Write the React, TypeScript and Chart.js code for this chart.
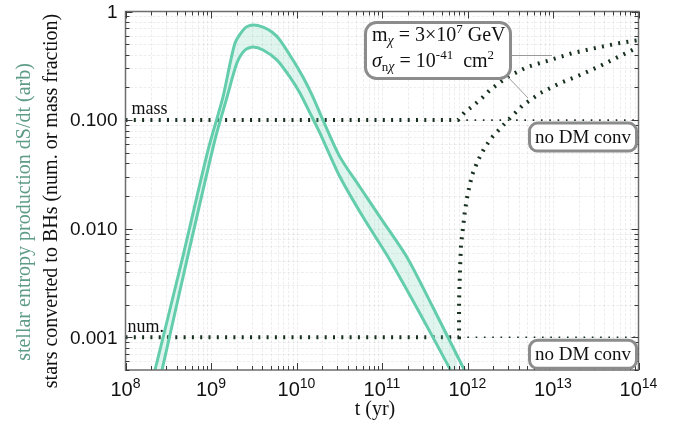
import React, { useEffect, useRef } from 'react';
import { Chart, registerables } from 'chart.js';

Chart.register(...registerables);

// ---- data ----
// stellar entropy production band (upper / lower edge)
const upperT = [1.94e8, 2.21e8, 4.58e8, 9.23e8, 1.38e9, 1.91e9, 2.5e9, 3.1e9, 4.06e9, 5.16e9, 6.41e9, 9.1e9, 1.19e10, 1.56e10, 2.04e10, 3.23e10, 5.53e10, 9.48e10, 1.96e11, 3.94e11, 8.85e11, 1.07e12];
const upperV = [3.25e-4, 4.97e-4, 5.13e-3, 0.053, 0.163, 0.513, 0.705, 0.752, 0.719, 0.647, 0.546, 0.357, 0.249, 0.163, 0.1, 0.0456, 0.0241, 0.0128, 0.00546, 0.00189, 5.3e-4, 3.93e-4];
const lowerT = [2.36e8, 2.67e8, 5.38e8, 1.11e9, 1.54e9, 2.01e9, 2.5e9, 3.1e9, 4.06e9, 5.92e9, 8.39e9, 1.1e10, 1.44e10, 1.88e10, 3.23e10, 6.0e10, 1.24e11, 2.78e11, 5.75e11, 7.53e11];
const lowerV = [3.25e-4, 4.97e-4, 5.7e-3, 0.0655, 0.163, 0.335, 0.442, 0.471, 0.442, 0.357, 0.249, 0.177, 0.116, 0.0759, 0.0299, 0.0128, 0.00513, 0.00166, 5.75e-4, 3.85e-4];

// stars converted to BHs, mass fraction
const massT = [1e8, 7.74e11, 9.35e11, 1.16e12, 1.48e12, 1.83e12, 2.9e12, 4.97e12, 9.23e12, 1.71e13, 3.55e13, 6.08e13, 1e14];
const massV = [0.1, 0.1, 0.119, 0.135, 0.16, 0.189, 0.249, 0.308, 0.357, 0.415, 0.471, 0.513, 0.546];
// stars converted to BHs, number fraction
const numT = [1e8, 7.96e11, 7.97e11, 8.17e11, 8.39e11, 8.85e11, 9.35e11, 1.01e12, 1.13e12, 1.33e12, 1.6e12, 1.99e12, 2.9e12, 4.34e12, 7.05e12, 1.21e13, 2.07e13, 3.55e13, 6.08e13, 1e14];
const numV = [0.001, 0.001, 2.19e-3, 4.15e-3, 7.05e-3, 0.0101, 0.0148, 0.0212, 0.0311, 0.0428, 0.0564, 0.0713, 0.0979, 0.135, 0.177, 0.219, 0.26, 0.315, 0.389, 0.471];
// "no DM conv" reference lines
const massNoConvT = [7.74e11, 1e14];
const massNoConvV = [0.1, 0.1];
const numNoConvT = [7.96e11, 1e14];
const numNoConvV = [0.001, 0.001];

// axes
const xMin = 1e8;
const xMax = 1e14;
const yMin = 5e-4;
const yMax = 1;
const xTickExps = ['8', '9', '10', '11', '12', '13', '14'];
const yTickVals = [1, 0.1, 0.01, 0.001];
const yTickLabels = ['1', '0.100', '0.010', '0.001'];

const GREEN = 'rgb(100,205,172)';
const GREEN_FILL = 'rgba(100,205,172,0.2)';
const DARK = '#17301f';
const SERIF = '"Liberation Serif", "Times New Roman", serif';
const SANS = '"Liberation Sans", Arial, sans-serif';

const pts = (t: number[], v: number[]) => t.map((x, i) => ({ x, y: v[i] }));

type Run = { t: string; size: number; italic?: boolean; dy?: number; fam?: string };
function runsWidth(ctx: CanvasRenderingContext2D, runs: Run[]) {
  let w = 0;
  for (const r of runs) {
    ctx.font = `${r.italic ? 'italic ' : ''}${r.size}px ${r.fam || SERIF}`;
    w += ctx.measureText(r.t).width;
  }
  return w;
}
function drawRuns(ctx: CanvasRenderingContext2D, x: number, y: number, runs: Run[]) {
  let cx = x;
  for (const r of runs) {
    ctx.font = `${r.italic ? 'italic ' : ''}${r.size}px ${r.fam || SERIF}`;
    ctx.fillText(r.t, cx, y + (r.dy || 0));
    cx += ctx.measureText(r.t).width;
  }
}

function roundBox(ctx: CanvasRenderingContext2D, x: number, y: number, w: number, h: number, r: number) {
  ctx.beginPath();
  ctx.roundRect(x, y, w, h, r);
  ctx.fillStyle = '#ffffff';
  ctx.fill();
  ctx.lineWidth = 3;
  ctx.strokeStyle = '#8c8c8c';
  ctx.stroke();
}

const decor = {
  id: 'decor',
  beforeDatasetsDraw(chart: any) {
    const ctx: CanvasRenderingContext2D = chart.ctx;
    const { left, right, top, bottom } = chart.chartArea;
    const xs = chart.scales.x;
    const ys = chart.scales.y;
    ctx.save();
    ctx.strokeStyle = 'rgba(0,0,0,0.065)';
    ctx.lineWidth = 1;
    ctx.setLineDash([3, 1.5]);
    for (let e = 8; e <= 14; e++) {
      for (let m = 1; m <= 9; m++) {
        const v = m * Math.pow(10, e);
        if (v <= xMin || v >= xMax) continue;
        const px = Math.round(xs.getPixelForValue(v)) + 0.5;
        ctx.beginPath();
        ctx.moveTo(px, top);
        ctx.lineTo(px, bottom);
        ctx.stroke();
      }
    }
    for (let e = -4; e <= 0; e++) {
      for (let m = 1; m <= 9; m++) {
        const v = m * Math.pow(10, e);
        if (v <= yMin || v >= yMax) continue;
        const py = Math.round(ys.getPixelForValue(v)) + 0.5;
        ctx.beginPath();
        ctx.moveTo(left, py);
        ctx.lineTo(right, py);
        ctx.stroke();
      }
    }
    ctx.restore();
  },
  afterDatasetsDraw(chart: any) {
    const ctx: CanvasRenderingContext2D = chart.ctx;
    const { left, right, top, bottom } = chart.chartArea;
    const xs = chart.scales.x;
    const ys = chart.scales.y;
    ctx.save();
    // frame
    ctx.strokeStyle = '#6e6e6e';
    ctx.lineWidth = 1.5;
    ctx.strokeRect(left, top, right - left, bottom - top);
    // ticks
    ctx.strokeStyle = '#3a3a3a';
    ctx.lineWidth = 1;
    for (let e = 8; e <= 14; e++) {
      for (let m = 1; m <= 9; m++) {
        const v = m * Math.pow(10, e);
        if (v < xMin || v > xMax) continue;
        const px = Math.round(xs.getPixelForValue(v)) + 0.5;
        const len = m === 1 ? 7 : 4;
        ctx.beginPath();
        ctx.moveTo(px, bottom);
        ctx.lineTo(px, bottom - len);
        ctx.moveTo(px, top);
        ctx.lineTo(px, top + len);
        ctx.stroke();
      }
    }
    for (let e = -4; e <= 0; e++) {
      for (let m = 1; m <= 9; m++) {
        const v = m * Math.pow(10, e);
        if (v < yMin || v > yMax) continue;
        const py = Math.round(ys.getPixelForValue(v)) + 0.5;
        const len = m === 1 ? 7 : 4;
        ctx.beginPath();
        ctx.moveTo(left, py);
        ctx.lineTo(left + len, py);
        ctx.moveTo(right, py);
        ctx.lineTo(right - len, py);
        ctx.stroke();
      }
    }
    // tick labels
    ctx.fillStyle = '#111';
    ctx.textBaseline = 'middle';
    ctx.textAlign = 'right';
    ctx.font = `19px ${SANS}`;
    yTickVals.forEach((v, i) => {
      ctx.fillText(yTickLabels[i], left - 8, ys.getPixelForValue(v) + 1);
    });
    ctx.textBaseline = 'alphabetic';
    ctx.textAlign = 'left';
    xTickExps.forEach((ex) => {
      const v = Math.pow(10, Number(ex));
      const runs: Run[] = [
        { t: '10', size: 20, fam: SANS },
        { t: ex, size: 14, fam: SANS, dy: -8 },
      ];
      const w = runsWidth(ctx, runs);
      drawRuns(ctx, xs.getPixelForValue(v) - w / 2, bottom + 26, runs);
    });
    // axis titles
    ctx.font = `20px ${SERIF}`;
    ctx.textAlign = 'center';
    ctx.fillStyle = '#111';
    ctx.fillText('t (yr)', (left + right) / 2 - 7, bottom + 45);
    ctx.save();
    ctx.translate(57, 201);
    ctx.rotate(-Math.PI / 2);
    ctx.fillText('stars converted to BHs (num. or mass fraction)', 0, 0);
    ctx.restore();
    ctx.save();
    ctx.translate(30, 212);
    ctx.rotate(-Math.PI / 2);
    ctx.fillStyle = '#5e9c86';
    ctx.fillText('stellar entropy production dS/dt (arb)', 0, 0);
    ctx.restore();
    // line labels
    ctx.textAlign = 'left';
    ctx.fillStyle = '#111';
    ctx.font = `18px ${SERIF}`;
    ctx.fillText('mass', left + 6, ys.getPixelForValue(0.1) - 6);
    ctx.fillText('num.', left + 2, ys.getPixelForValue(0.001) - 5);
    // leader lines
    ctx.strokeStyle = '#9a9a9a';
    ctx.lineWidth = 1;
    ctx.beginPath();
    ctx.moveTo(510, 55.5);
    ctx.lineTo(552, 55.5);
    ctx.moveTo(506, 75);
    ctx.lineTo(528, 98);
    ctx.stroke();
    // parameter box
    roundBox(ctx, 365.5, 22.5, 145, 56, 11);
    ctx.fillStyle = '#111';
    drawRuns(ctx, 372, 41, [
      { t: 'm', size: 20 },
      { t: 'χ', size: 14, italic: true, dy: 4 },
      { t: ' = 3×10', size: 20 },
      { t: '7', size: 13, dy: -8 },
      { t: ' GeV', size: 20 },
    ]);
    drawRuns(ctx, 372, 67, [
      { t: 'σ', size: 20, italic: true },
      { t: 'n', size: 13, dy: 4 },
      { t: 'χ', size: 14, italic: true, dy: 4 },
      { t: ' = 10', size: 20 },
      { t: '-41', size: 13, dy: -8 },
      { t: '  cm', size: 20 },
      { t: '2', size: 13, dy: -8 },
    ]);
    // no DM conv boxes
    const boxes = [ys.getPixelForValue(0.1), ys.getPixelForValue(0.001)];
    boxes.forEach((py) => {
      roundBox(ctx, 529.5, py + 3, 107, 28, 8);
      ctx.fillStyle = '#111';
      ctx.font = `19px ${SERIF}`;
      ctx.textAlign = 'left';
      ctx.fillText('no DM conv', 535, py + 23);
    });
    ctx.restore();
  },
};

export default function App() {
  const ref = useRef<HTMLCanvasElement | null>(null);
  useEffect(() => {
    document.body.style.margin = '0';
    const canvas = ref.current!;
    const chart = new Chart(canvas, {
      type: 'line',
      data: {
        datasets: [
          {
            data: pts(upperT, upperV),
            borderColor: GREEN,
            borderWidth: 3,
            pointRadius: 0,
            tension: 0.25,
            fill: false,
          },
          {
            data: pts(lowerT, lowerV),
            borderColor: GREEN,
            borderWidth: 3,
            pointRadius: 0,
            tension: 0.25,
            fill: '-1',
            backgroundColor: GREEN_FILL,
          },
          {
            data: pts(massT, massV),
            borderColor: DARK,
            borderWidth: 4,
            borderDash: [2, 6.3],
            borderCapStyle: 'butt',
            pointRadius: 0,
            tension: 0,
            fill: false,
          },
          {
            data: pts(numT, numV),
            borderColor: DARK,
            borderWidth: 4,
            borderDash: [2, 6.3],
            borderCapStyle: 'butt',
            pointRadius: 0,
            tension: 0,
            fill: false,
          },
          {
            data: pts(massNoConvT, massNoConvV),
            borderColor: DARK,
            borderWidth: 1.6,
            borderDash: [1.6, 6.7],
            pointRadius: 0,
            fill: false,
          },
          {
            data: pts(numNoConvT, numNoConvV),
            borderColor: DARK,
            borderWidth: 1.6,
            borderDash: [1.6, 6.7],
            pointRadius: 0,
            fill: false,
          },
        ],
      },
      options: {
        animation: false,
        responsive: false,
        devicePixelRatio: 1,
        parsing: false,
        normalized: true,
        layout: { padding: { top: 11.5, right: 42.5, left: 0, bottom: 0 } },
        plugins: {
          legend: { display: false },
          tooltip: { enabled: false },
        },
        scales: {
          x: {
            type: 'logarithmic',
            min: xMin,
            max: xMax,
            ticks: { display: false },
            grid: { display: false },
            border: { display: false },
            afterFit: (s: any) => {
              s.height = 54;
            },
          },
          y: {
            type: 'logarithmic',
            min: yMin,
            max: yMax,
            ticks: { display: false },
            grid: { display: false },
            border: { display: false },
            afterFit: (s: any) => {
              s.width = 125.5;
            },
          },
        },
      } as any,
      plugins: [decor],
    });
    return () => chart.destroy();
  }, []);
  return <canvas ref={ref} width={681} height={424} style={{ display: 'block' }} />;
}
